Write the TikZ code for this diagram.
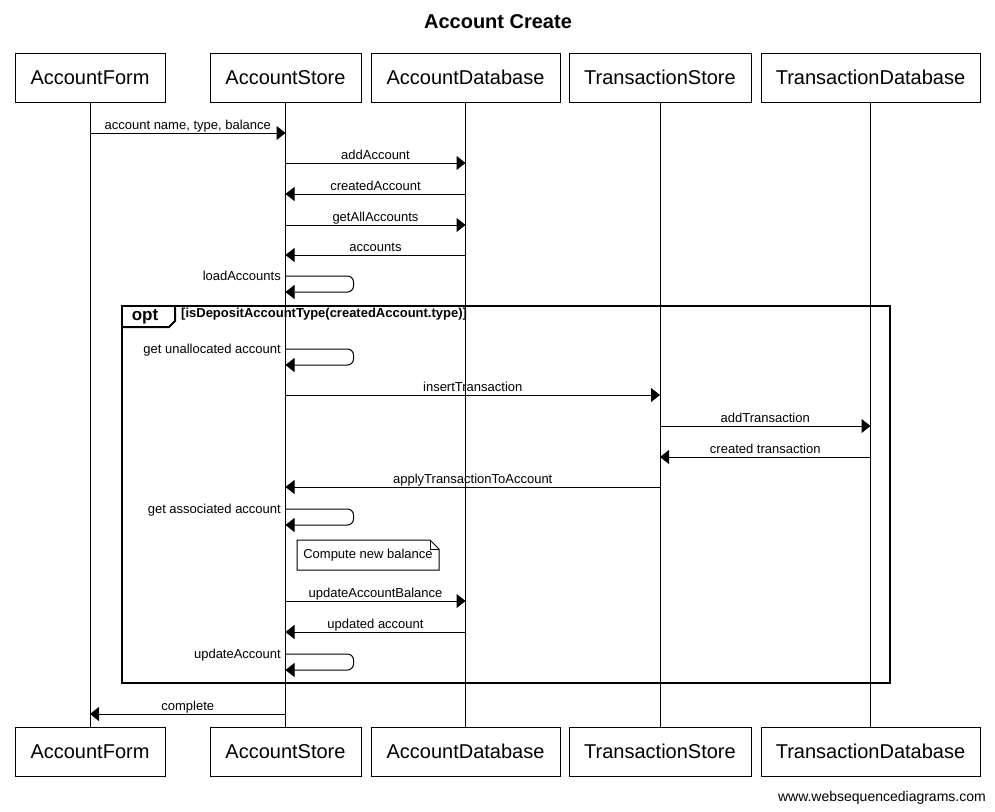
\documentclass[tikz,border=0pt]{standalone}
\usepackage{fontspec}
\setmainfont{Liberation Sans}
\usetikzlibrary{arrows.meta}
\begin{document}
\begin{tikzpicture}[x=1pt,y=-1pt,
  part/.style={draw, fill=white, line width=1pt, minimum height=49pt, inner sep=0pt, font=\fontsize{20}{24}\selectfont},
  life/.style={line width=1pt},
  msg/.style={line width=1pt, -{Triangle[length=9pt,width=14pt]}},
  lbl/.style={font=\fontsize{13}{15}\selectfont, anchor=base, yshift=4pt, inner sep=0pt},
  slbl/.style={font=\fontsize{13}{15}\selectfont, anchor=base east, inner sep=0pt},
  selfmsg/.style={line width=1pt, rounded corners=6pt, -{Triangle[length=9pt,width=14pt]}},
  framebox/.style={line width=2pt},
  notebox/.style={line width=1pt, fill=white}
]
\useasboundingbox (0,0) rectangle (995,811);
\fill[white] (0,0) rectangle (995,811);

\node[font=\bfseries\fontsize{20}{24}\selectfont] (title) at (498,22) {Account Create};

% participants top
\node[part, minimum width=150pt] (tA) at (90,77.5) {AccountForm};
\node[part, minimum width=151pt] (tB) at (285.5,77.5) {AccountStore};
\node[part, minimum width=189pt] (tC) at (465.5,77.5) {AccountDatabase};
\node[part, minimum width=182pt] (tD) at (660,77.5) {TransactionStore};
\node[part, minimum width=219pt] (tE) at (870.5,77.5) {TransactionDatabase};
% participants bottom
\node[part, minimum width=150pt] (bA) at (90,751.5) {AccountForm};
\node[part, minimum width=151pt] (bB) at (285.5,751.5) {AccountStore};
\node[part, minimum width=189pt] (bC) at (465.5,751.5) {AccountDatabase};
\node[part, minimum width=182pt] (bD) at (660,751.5) {TransactionStore};
\node[part, minimum width=219pt] (bE) at (870.5,751.5) {TransactionDatabase};

% lifelines
\draw[life] (tA) -- (bA);
\draw[life] (tB) -- (bB);
\draw[life] (tC) -- (bC);
\draw[life] (tD) -- (bD);
\draw[life] (tE) -- (bE);

% messages
\draw[msg] (tA |- 0,133) -- node[lbl] {account name, type, balance} (tB |- 0,133);
\draw[msg] (tB |- 0,163) -- node[lbl] {addAccount} (tC |- 0,163);
\draw[msg] (tC |- 0,194) -- node[lbl] {createdAccount} (tB |- 0,194);
\draw[msg] (tB |- 0,225) -- node[lbl] {getAllAccounts} (tC |- 0,225);
\draw[msg] (tC |- 0,255) -- node[lbl] {accounts} (tB |- 0,255);
\draw[selfmsg] (tB |- 0,276) -- ++(68,0) -- ++(0,16) -- (tB |- 0,292);
\node[slbl] (l6) at (281,280) {loadAccounts};

% opt frame
\draw[framebox] (122,306) rectangle (890,683);
\draw[framebox] (122,327) -- (169,327) -- (175,321) -- (175,306);
\node[font=\bfseries\fontsize{17}{20}\selectfont, inner sep=0pt] (optl) at (145,317) {opt};
\node[font=\bfseries\fontsize{13}{15}\selectfont, anchor=west, inner sep=0pt] (cond) at (181,314) {[isDepositAccountType(createdAccount.type)]};

\draw[selfmsg] (tB |- 0,349) -- ++(68,0) -- ++(0,16) -- (tB |- 0,365);
\node[slbl] (l7) at (281,353) {get unallocated account};
\draw[msg] (tB |- 0,395) -- node[lbl] {insertTransaction} (tD |- 0,395);
\draw[msg] (tD |- 0,426) -- node[lbl] {addTransaction} (tE |- 0,426);
\draw[msg] (tE |- 0,457) -- node[lbl] {created transaction} (tD |- 0,457);
\draw[msg] (tD |- 0,487) -- node[lbl] {applyTransactionToAccount} (tB |- 0,487);
\draw[selfmsg] (tB |- 0,509) -- ++(68,0) -- ++(0,16) -- (tB |- 0,525);
\node[slbl] (l12) at (281,513) {get associated account};

% note
\draw[notebox] (297,540) -- (430,540) -- (439,549) -- (439,570) -- (297,570) -- cycle;
\draw[line width=1pt] (430,540) -- (430,549) -- (439,549);
\node[font=\fontsize{13}{15}\selectfont, inner sep=0pt] (note) at (368,555) {Compute new balance};

\draw[msg] (tB |- 0,601) -- node[lbl] {updateAccountBalance} (tC |- 0,601);
\draw[msg] (tC |- 0,632) -- node[lbl] {updated account} (tB |- 0,632);
\draw[selfmsg] (tB |- 0,654) -- ++(68,0) -- ++(0,16) -- (tB |- 0,670);
\node[slbl] (l16) at (281,658) {updateAccount};

\draw[msg] (tB |- 0,714) -- node[lbl] {complete} (tA |- 0,714);

\node[font=\fontsize{14}{16}\selectfont, anchor=base east, inner sep=0pt] (foot) at (986,801) {www.websequencediagrams.com};
\end{tikzpicture}
\end{document}
